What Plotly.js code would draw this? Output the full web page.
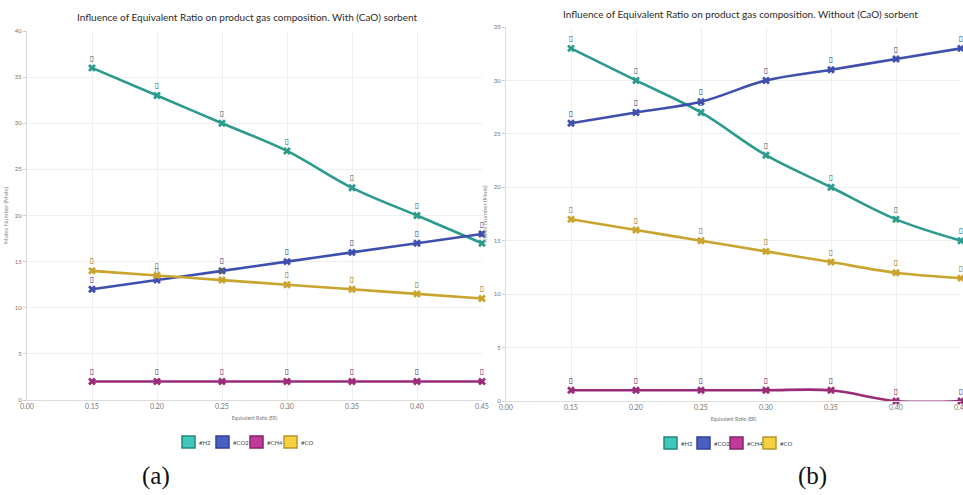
<!DOCTYPE html>
<html>
<head>
<meta charset="utf-8">
<script src="https://cdn.plot.ly/plotly-3.0.1.min.js"></script>
<style>html,body{margin:0;padding:0;background:#fff;}#chart{width:963px;height:495px;}</style>
</head>
<body>
<div id="chart"></div>
<script>
// ---- data ----
const erTicks = ["0.00","0.15","0.20","0.25","0.30","0.35","0.40","0.45"];
const er = ["0.15","0.20","0.25","0.30","0.35","0.40","0.45"];
const seriesNames = ["#H2","#CO2","#CH4","#CO"];

// (a) with CaO sorbent
const h2With  = [36, 33, 30, 27, 23, 20, 17];
const co2With = [12, 13, 14, 15, 16, 17, 18];
const ch4With = [2, 2, 2, 2, 2, 2, 2];
const coWith  = [14, 13.5, 13, 12.5, 12, 11.5, 11];

// (b) without CaO sorbent
const h2Without  = [33, 30, 27, 23, 20, 17, 15];
const co2Without = [26, 27, 28, 30, 31, 32, 33];
const ch4Without = [1, 1, 1, 1, 1, 0, 0];
const coWithout  = [17, 16, 15, 14, 13, 12, 11.5];

const titleA = "Influence of Equivalent Ratio on product gas composition. With (CaO) sorbent";
const titleB = "Influence of Equivalent Ratio on product gas composition. Without (CaO) sorbent";
const xTitle = "Equivalent Ratio (ER)";
const yTitle = "Moles Number (Mole)";

// ---- styles ----
const lineColors = ["#2b9b8d", "#3f4fad", "#9a2b78", "#c9a42e"];
const labelColors = ["#1f6f66", "#2f3b85", "#6e1f58", "#8f7520"];
const boxFill    = ["#3fc6bd", "#4a5fc2", "#c23a98", "#f6d13f"];
const boxLine    = ["#25877c", "#33409a", "#862368", "#b8962a"];
const W = 963, H = 495;
const px = x => x / W;
const py = y => 1 - y / H;
const fam = "Lato, 'Open Sans', sans-serif";

function mk(name, y, i, xa, ya) {
  return {
    type: "scatter", mode: "lines+markers+text",
    x: er, y: y, name: name, xaxis: xa, yaxis: ya, showlegend: false,
    line: {color: lineColors[i], width: 2.6, shape: "spline", smoothing: 1},
    marker: {symbol: "x", size: 7, color: lineColors[i]},
    text: y.map(() => "▯"), textposition: "top center",
    textfont: {size: 8, color: labelColors[i], family: "DejaVu Sans"},
    cliponaxis: false, hoverinfo: "x+y+name"
  };
}

const dataA = [h2With, co2With, ch4With, coWith];
const dataB = [h2Without, co2Without, ch4Without, coWithout];
const traces = [];
dataA.forEach((d, i) => traces.push(mk(seriesNames[i], d, i, "x", "y")));
dataB.forEach((d, i) => traces.push(mk(seriesNames[i], d, i, "x2", "y2")));

function xaxis(domain) {
  return {
    domain: domain, type: "category", categoryorder: "array", categoryarray: erTicks,
    range: [0, 7], showgrid: true, gridcolor: "#efefef", gridwidth: 1,
    showline: true, linecolor: "#dcdcdc", linewidth: 1, zeroline: false,
    ticks: "", tickfont: {size: 7, color: "#777", family: fam},
    title: {text: xTitle, font: {size: 5, color: "#777", family: fam}, standoff: 7},
    fixedrange: true
  };
}
function yaxis(domain, max, anchor) {
  return {
    domain: domain, range: [0, max], dtick: 5, anchor: anchor,
    showgrid: true, gridcolor: "#efefef", gridwidth: 1,
    showline: true, linecolor: "#dcdcdc", linewidth: 1, zeroline: false,
    ticks: "outside", ticklen: 3, tickcolor: "#ccc",
    tickfont: {size: 6, color: "#777", family: fam},
    title: {text: yTitle, font: {size: 6, color: "#888", family: fam}, standoff: 5},
    fixedrange: true
  };
}

const shapes = [];
const annotations = [
  {text: titleA, xref: "paper", yref: "paper", x: px(247), y: py(17), showarrow: false,
   xanchor: "center", yanchor: "middle", font: {size: 10, color: "#2a2a2a", family: fam}},
  {text: titleB, xref: "paper", yref: "paper", x: px(740), y: py(14), showarrow: false,
   xanchor: "center", yanchor: "middle", font: {size: 10, color: "#2a2a2a", family: fam}},
  {text: "(a)", xref: "paper", yref: "paper", x: px(156), y: py(476), showarrow: false,
   xanchor: "center", yanchor: "middle", font: {size: 25, color: "#111", family: "'Liberation Serif', 'Times New Roman', serif"}},
  {text: "(b)", xref: "paper", yref: "paper", x: px(812), y: py(476), showarrow: false,
   xanchor: "center", yanchor: "middle", font: {size: 25, color: "#111", family: "'Liberation Serif', 'Times New Roman', serif"}}
];

// hand-made compact legends (one per panel)
function legend(x0, step, yTop) {
  seriesNames.forEach((n, i) => {
    const bx = x0 + i * step;
    shapes.push({type: "rect", xref: "paper", yref: "paper",
      x0: px(bx), x1: px(bx + 13), y0: py(yTop + 12), y1: py(yTop),
      fillcolor: boxFill[i], line: {color: boxLine[i], width: 1.5}});
    annotations.push({text: n, xref: "paper", yref: "paper", x: px(bx + 15), y: py(yTop + 6),
      xanchor: "left", yanchor: "middle", showarrow: false,
      font: {size: 6, color: "#444", family: fam}});
  });
}
legend(182, 34, 436);
legend(664, 33, 437);

const layout = {
  width: W, height: H, margin: {l: 0, r: 0, t: 0, b: 0},
  paper_bgcolor: "#fff", plot_bgcolor: "#fff", showlegend: false,
  xaxis: Object.assign(xaxis([px(27), px(482)]), {anchor: "y"}),
  yaxis: yaxis([py(400), py(31)], 40, "x"),
  xaxis2: Object.assign(xaxis([px(506), px(961)]), {anchor: "y2"}),
  yaxis2: yaxis([py(401), py(27)], 35, "x2"),
  shapes: shapes, annotations: annotations
};

Plotly.newPlot("chart", traces, layout, {displayModeBar: false, staticPlot: true});
</script>
</body>
</html>
